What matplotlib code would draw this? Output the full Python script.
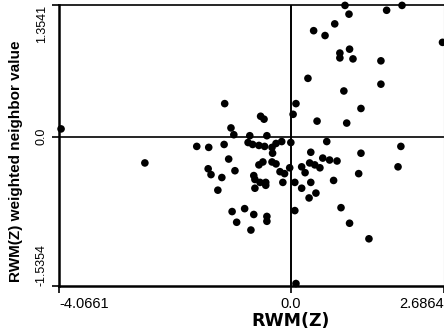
import matplotlib
matplotlib.use("Agg")
import matplotlib.pyplot as plt
import numpy as np

# Moran scatterplot values
rwm_z = [0.95, 1.95, 1.02, 1.68, 0.77, 0.40, 0.60, 2.66, 1.03, 0.86,
         0.86, 1.09, 1.58, 0.30, 1.58, 0.93, 1.23, 0.09, 0.04, 0.46,
         0.98, -4.03, -1.16, -0.53, -0.47, -1.05, -1.00, -0.72, -0.42, -1.17,
         -0.75, -0.67, -0.56, -0.46, -0.33, -0.26, -0.16, 0.00, -1.65, -1.44,
         -1.09, -0.32, -2.56, -1.45, -1.40, -1.21, -0.98, -1.28, -0.56, -0.49,
         -0.33, -0.26, -0.02, -0.19, -0.11, -0.65, -0.63, -0.54, -0.44, -0.44,
         -0.14, -0.63, -1.03, -0.95, -0.81, -0.65, -0.42, -0.42, -0.70, 0.63,
         1.93, 0.35, 1.23, 0.56, 0.68, 0.81, 0.33, 0.42, 0.51, 0.19,
         1.88, 0.25, 1.19, 0.07, 0.35, 0.75, 0.19, 0.44, 0.32, 0.07,
         0.88, 1.03, 1.37, 0.09]
weighted = [1.35, 1.35, 1.26, 1.30, 1.16, 1.09, 1.04, 0.97, 0.90, 0.86,
            0.81, 0.80, 0.78, 0.60, 0.54, 0.47, 0.29, 0.34, 0.23, 0.16,
            0.14, 0.08, 0.34, 0.21, 0.18, 0.09, 0.02, 0.01, 0.01, -0.08,
            -0.06, -0.08, -0.09, -0.10, -0.11, -0.07, -0.05, -0.06, -0.10, -0.11,
            -0.23, -0.17, -0.27, -0.33, -0.39, -0.42, -0.35, -0.55, -0.29, -0.26,
            -0.26, -0.28, -0.32, -0.36, -0.38, -0.40, -0.44, -0.47, -0.47, -0.50,
            -0.47, -0.53, -0.77, -0.88, -0.74, -0.80, -0.82, -0.87, -0.96, -0.05,
            -0.10, -0.16, -0.17, -0.22, -0.24, -0.25, -0.27, -0.29, -0.32, -0.31,
            -0.31, -0.37, -0.38, -0.47, -0.47, -0.45, -0.53, -0.58, -0.63, -0.76,
            -0.73, -0.89, -1.05, -1.51]

x_min, x_max = -4.0661, 2.6864
y_min, y_max = -1.5354, 1.3541
x_ticks = [x_min, 0.0, x_max]
x_labels = ["-4.0661", "0.0", "2.6864"]
y_ticks = [y_min, 0.0, y_max]
y_labels = ["-1.5354", "0.0", "1.3541"]

narrow = ["Liberation Sans Narrow", "Liberation Sans", "DejaVu Sans"]
plain = ["Liberation Sans", "DejaVu Sans"]

fig = plt.figure(figsize=(4.44, 3.32), dpi=100)
ax = fig.add_axes([59 / 444, 1 - 286 / 332, 1 - 59 / 444, 281 / 332])

ax.scatter(rwm_z, weighted, s=30, c="black", edgecolors="none", zorder=3, clip_on=False)
ax.axvline(0, color="black", lw=1.4, zorder=2)
ax.axhline(0, color="black", lw=1.2, zorder=2)

ax.set_xlim(x_min, x_max)
ax.set_ylim(y_min, y_max)

for side in ["left", "bottom"]:
    ax.spines[side].set_linewidth(1.8)
ax.spines["top"].set_linewidth(1.2)
ax.spines["right"].set_color("#999999")
ax.spines["right"].set_linewidth(0.8)

ax.set_xticks(x_ticks)
ax.set_xticklabels(x_labels, fontsize=10.5, family=plain)
xt = ax.get_xticklabels()
xt[0].set_horizontalalignment("left")
xt[2].set_horizontalalignment("right")

ax.set_yticks(y_ticks)
ax.set_yticklabels(y_labels, fontsize=9, family=narrow, rotation=90, va="center")
yt = ax.get_yticklabels()
yt[0].set_verticalalignment("bottom")
yt[2].set_verticalalignment("top")

ax.tick_params(direction="out", length=5, width=1.2, pad=3)

fig.text(291 / 444, 1 - 321 / 332, "RWM(Z)", ha="center", va="center",
         fontsize=12.5, fontweight="bold", family=["DejaVu Sans"])
fig.text(16 / 444, 1 - 161 / 332, "RWM(Z) weighted neighbor value", ha="center", va="center",
         rotation=90, fontsize=11, fontweight="bold", family=narrow)

fig.savefig("out.png", dpi=100)
